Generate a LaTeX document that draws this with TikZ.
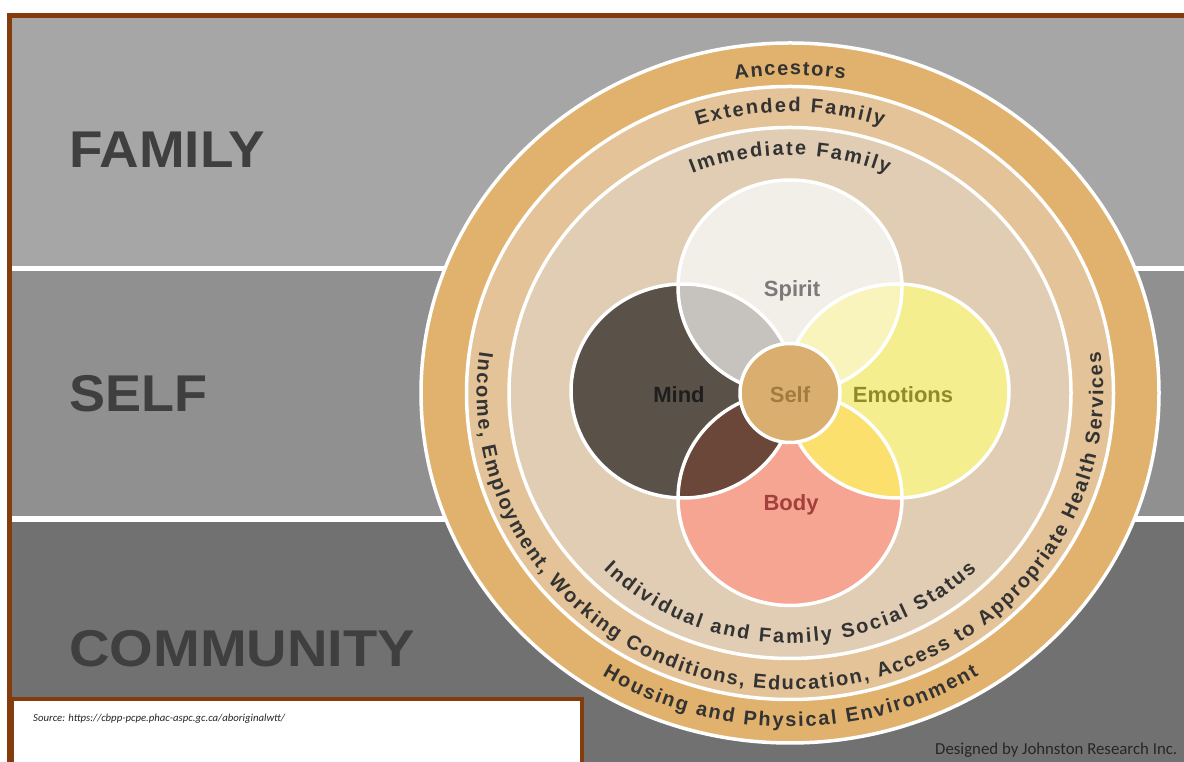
\documentclass[tikz,border=0pt]{standalone}
\usepackage{fontspec}
\usepackage{graphicx}
\usetikzlibrary{decorations.text}
\newfontfamily\lsans{Liberation Sans}
\newfontfamily\carl{Carlito}
\definecolor{framebrown}{HTML}{843C0C}
\definecolor{bandA}{HTML}{A6A6A6}
\definecolor{bandB}{HTML}{909090}
\definecolor{bandC}{HTML}{717171}
\definecolor{bigtext}{HTML}{3F3F3F}
\definecolor{ringA}{HTML}{E1B16E}
\definecolor{ringB}{HTML}{E3C397}
\definecolor{ringC}{HTML}{E0CDB3}
\definecolor{ringtext}{HTML}{333333}
\definecolor{mindc}{HTML}{5A5148}
\definecolor{spiritc}{HTML}{F2EEE8}
\definecolor{emoc}{HTML}{F4EE8E}
\definecolor{bodyc}{HTML}{F5A591}
\definecolor{msc}{HTML}{C6C3BE}
\definecolor{sec}{HTML}{F8F4BC}
\definecolor{ebc}{HTML}{FBE06E}
\definecolor{bmc}{HTML}{6A4738}
\definecolor{selfc}{HTML}{DAAE6E}
\definecolor{selft}{HTML}{A47B3F}
\definecolor{mindt}{HTML}{1E1E1E}
\definecolor{spiritt}{HTML}{7A7A7A}
\definecolor{emot}{HTML}{8E8B2B}
\definecolor{bodyt}{HTML}{A3403B}
\definecolor{smalltext}{HTML}{262626}
\newcommand\ringfnt{\lsans\bfseries\fontsize{20}{24}\selectfont\color{ringtext}}
\begin{document}
\begin{tikzpicture}[x=1pt,y=1pt,
  ring/.style={fill=#1, draw=white, line width=3.5pt},
  outline/.style={draw=white, line width=3.5pt},
  bigword/.style={anchor=base west, text=bigtext, inner sep=0pt,
     font=\lsans\bfseries\fontsize{51.7}{60}\selectfont},
  petallabel/.style={anchor=base, text=#1, inner sep=0pt,
     font=\lsans\bfseries\fontsize{22}{26}\selectfont},
  ringtxt/.style={decorate, decoration={text along path, text align={fit to path}, text={#1}}},
]
\useasboundingbox (0,0) rectangle (1184,762);
\fill[white] (0,0) rectangle (1184,762);
% bands
\fill[white] (11,0) rectangle (1184,745);
\fill[bandA] (11,496) rectangle (1184,745);
\fill[bandB] (11,246) rectangle (1184,491);
\fill[bandC] (11,0) rectangle (1184,240);
% frame
\draw[framebrown, line width=4.5pt] (7,746.5) -- (1184,746.5);
\draw[framebrown, line width=4.5pt] (9.5,749) -- (9.5,0);
% big words
\node[bigword] (family) at (69,594) {\scalebox{1.06}[1]{FAMILY}};
\node[bigword] (self) at (69,350) {\scalebox{1.045}[1]{SELF}};
\node[bigword] (community) at (69,95) {\scalebox{1.085}[1]{COMMUNITY}};
\begin{scope}[shift={(790,369)}]
  \draw[ring=ringA] (0,0) ellipse [x radius=369, y radius=350];
  \draw[ring=ringB] (0,0) ellipse [x radius=323.5, y radius=306.5];
  \draw[ring=ringC] (0,0) ellipse [x radius=281, y radius=265.5];
  % petals
  \fill[spiritc] (0,106) ellipse [x radius=112, y radius=107];
  \fill[mindc] (-107,2) ellipse [x radius=112, y radius=107];
  \fill[emoc] (107,2) ellipse [x radius=112, y radius=107];
  \fill[bodyc] (0,-105.5) ellipse [x radius=112, y radius=107];
  \begin{scope}
    \clip (0,106) ellipse [x radius=112, y radius=107];
    \fill[msc] (-107,2) ellipse [x radius=112, y radius=107];
    \fill[sec] (107,2) ellipse [x radius=112, y radius=107];
  \end{scope}
  \begin{scope}
    \clip (0,-105.5) ellipse [x radius=112, y radius=107];
    \fill[bmc] (-107,2) ellipse [x radius=112, y radius=107];
    \fill[ebc] (107,2) ellipse [x radius=112, y radius=107];
  \end{scope}
  \draw[outline] (0,106) ellipse [x radius=112, y radius=107];
  \draw[outline] (-107,2) ellipse [x radius=112, y radius=107];
  \draw[outline] (107,2) ellipse [x radius=112, y radius=107];
  \draw[outline] (0,-105.5) ellipse [x radius=112, y radius=107];
  \draw[outline, fill=selfc] (0,0) ellipse [x radius=50, y radius=49.5];
  % labels
  \node[petallabel=spiritt] (spirit) at (2,96) {Spirit};
  \node[petallabel=mindt] (mind) at (-111,-10) {Mind};
  \node[petallabel=selft] (selfl) at (0,-10) {Self};
  \node[petallabel=emot] (emotions) at (113,-10) {Emotions};
  \node[petallabel=bodyt] (body) at (1,-118) {Body};
  % curved texts
  \path[ringtxt={|\ringfnt|Ancestors}]
    (99.4:335.5 and 318) arc[start angle=99.4, end angle=80.6, x radius=335.5, y radius=318];
  \path[ringtxt={|\ringfnt|Extended Family}]
    (108.2:296.5 and 281) arc[start angle=108.2, end angle=71.8, x radius=296.5, y radius=281];
  \path[ringtxt={|\ringfnt|Immediate Family}]
    (112.9:251 and 238) arc[start angle=112.9, end angle=67.1, x radius=251, y radius=238];
  \path[ringtxt={|\ringfnt|Housing and Physical Environment}]
    (237.8:352.4 and 334) arc[start angle=237.8, end angle=302.4, x radius=352.4, y radius=334];
  \path[ringtxt={|\ringfnt|Income, Employment, Working Conditions, Education, Access to Appropriate Health Services}]
    (172:313.3 and 297) arc[start angle=172, end angle=368, x radius=313.3, y radius=297];
  \path[ringtxt={|\ringfnt|Individual and Family Social Status}]
    (225:263.8 and 250) arc[start angle=225, end angle=315, x radius=263.8, y radius=250];
\end{scope}
% source box
\draw[framebrown, line width=4pt, fill=white] (11.5,62.5) rectangle (582,-10);
\node[anchor=base west, inner sep=0pt, text=smalltext] (source) at (33,40)
  {\resizebox{252pt}{!}{\carl\itshape Source: https://cbpp-pcpe.phac-aspc.gc.ca/aboriginalwtt/}};
\node[anchor=base west, inner sep=0pt, text=smalltext] (designed) at (935,7)
  {\resizebox{242pt}{!}{\carl Designed by Johnston Research Inc.}};
\end{tikzpicture}
\end{document}
